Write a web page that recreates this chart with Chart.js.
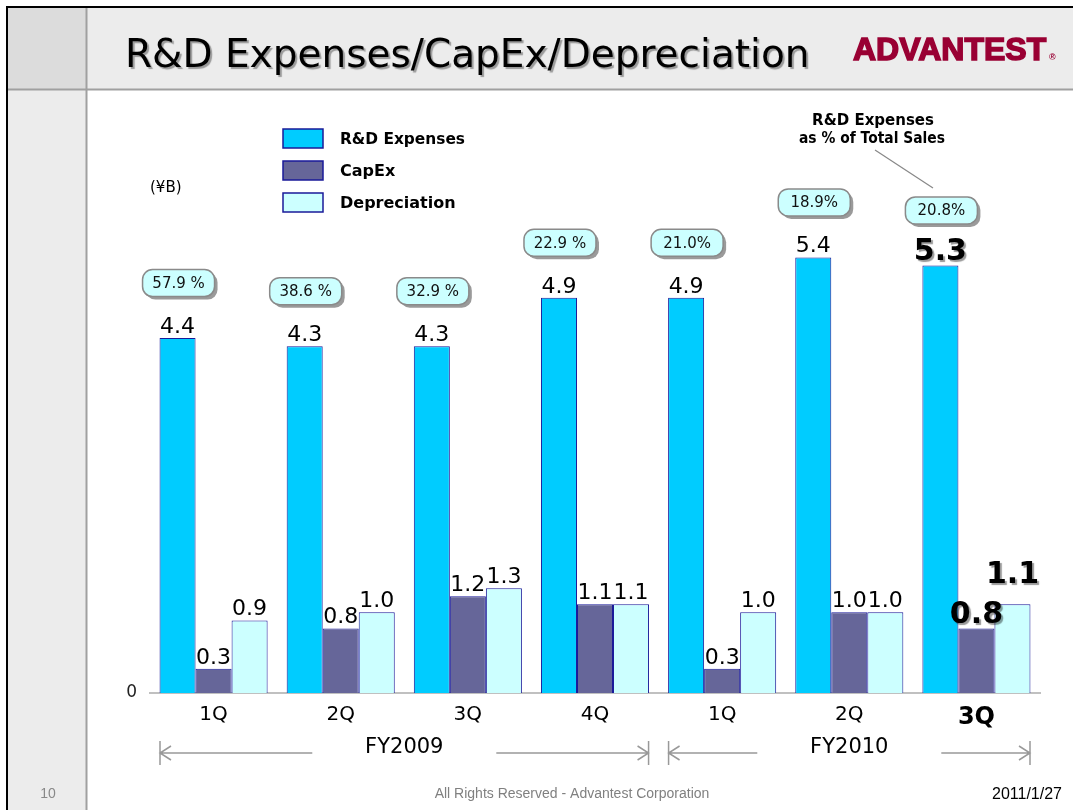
<!DOCTYPE html>
<html>
<head>
<meta charset="utf-8">
<title>R&amp;D Expenses/CapEx/Depreciation</title>
<script src="https://cdn.jsdelivr.net/npm/chart.js"></script>
<style>
  html, body { margin: 0; padding: 0; background: #fff; }
  #wrap { position: relative; width: 1073px; height: 810px; }
</style>
</head>
<body>
<div id="wrap"><canvas id="chart" width="1073" height="810"></canvas></div>

<script>
    // data (¥B)
    const quarters = ['1Q', '2Q', '3Q', '4Q', '1Q', '2Q', '3Q'];
    const fiscalYears = ['FY2009', 'FY2010'];
    const fiscalYearQuarters = [4, 3];
    const rdExpenses = [4.4, 4.3, 4.3, 4.9, 4.9, 5.4, 5.3];
    const capex = [0.3, 0.8, 1.2, 1.1, 0.3, 1.0, 0.8];
    const depreciation = [0.9, 1.0, 1.3, 1.1, 1.0, 1.0, 1.1];
    const rdRatio = ['57.9 %', '38.6 %', '32.9 %', '22.9 %', '21.0%', '18.9%', '20.8%'];
    const yTicks = [0];

    const fam = '"DejaVu Sans", Verdana, sans-serif';
    const arial = '"Liberation Sans", Arial, sans-serif';
    const lastIdx = quarters.length - 1;

    function roundRect(ctx, x, y, w, h, r) {
        ctx.beginPath();
        ctx.moveTo(x + r, y);
        ctx.arcTo(x + w, y, x + w, y + h, r);
        ctx.arcTo(x + w, y + h, x, y + h, r);
        ctx.arcTo(x, y + h, x, y, r);
        ctx.arcTo(x, y, x + w, y, r);
        ctx.closePath();
    }

    // slide frame, header, title, logo, footer
    const slidePlugin = {
        id: 'slide',
        beforeDraw(chart) {
            const ctx = chart.ctx;
            ctx.save();
            ctx.fillStyle = '#fff';
            ctx.fillRect(0, 0, 1073, 810);
            ctx.fillStyle = '#ececec';
            ctx.fillRect(8, 8, 1065, 82);
            ctx.fillRect(8, 90, 78, 720);
            ctx.fillStyle = '#dcdcdc';
            ctx.fillRect(8, 8, 78, 82);

            ctx.strokeStyle = '#a0a0a0';
            ctx.lineWidth = 2;
            ctx.beginPath();
            ctx.moveTo(86.5, 8); ctx.lineTo(86.5, 810);
            ctx.moveTo(8, 89.5); ctx.lineTo(1073, 89.5);
            ctx.stroke();

            ctx.strokeStyle = '#000';
            ctx.lineWidth = 2;
            ctx.beginPath();
            ctx.moveTo(7, 810); ctx.lineTo(7, 7); ctx.lineTo(1073, 7);
            ctx.stroke();

            // title
            ctx.shadowColor = 'rgba(0,0,0,0.35)';
            ctx.shadowOffsetX = 2;
            ctx.shadowOffsetY = 2;
            ctx.shadowBlur = 1;
            ctx.fillStyle = '#000';
            ctx.font = `39px ${fam}`;
            ctx.textAlign = 'left';
            ctx.textBaseline = 'alphabetic';
            ctx.fillText('R&D Expenses/CapEx/Depreciation', 125, 67, 692);
            ctx.shadowColor = 'transparent';

            // logo
            ctx.fillStyle = '#990033';
            ctx.strokeStyle = '#990033';
            ctx.lineWidth = 1.5;
            ctx.font = `bold 32px ${arial}`;
            ctx.fillText('ADVANTEST', 853, 60, 195);
            ctx.strokeText('ADVANTEST', 853, 60, 195);
            ctx.font = `bold 9px ${arial}`;
            ctx.fillText('®', 1049, 60);

            // footer
            ctx.font = `14px ${arial}`;
            ctx.fillStyle = '#888';
            ctx.textAlign = 'center';
            ctx.fillText('10', 48, 798);
            ctx.fillStyle = '#808080';
            ctx.fillText('All Rights Reserved - Advantest Corporation', 572, 798);
            ctx.fillStyle = '#000';
            ctx.font = `16px ${arial}`;
            ctx.textAlign = 'right';
            ctx.fillText('2011/1/27', 1062, 799);
            ctx.restore();
        },
        afterDatasetsDraw(chart) {
            const ctx = chart.ctx;
            const x = chart.scales.x;
            ctx.save();

            // value labels above bars
            ctx.textAlign = 'center';
            ctx.textBaseline = 'alphabetic';
            ctx.fillStyle = '#000';
            chart.data.datasets.forEach((ds, di) => {
                chart.getDatasetMeta(di).data.forEach((bar, i) => {
                    const last = i === lastIdx;
                    let y = bar.y - 5;
                    if (last) {
                        ctx.font = `bold 30px ${fam}`;
                        ctx.shadowColor = 'rgba(0,0,0,0.4)';
                        ctx.shadowOffsetX = 2;
                        ctx.shadowOffsetY = 2;
                        ctx.shadowBlur = 1;
                        if (di === 2) y -= 16;
                    } else {
                        ctx.font = `22px ${fam}`;
                        ctx.shadowColor = 'transparent';
                    }
                    ctx.fillText(ds.data[i].toFixed(1), bar.x, y);
                });
            });
            ctx.shadowColor = 'transparent';

            // R&D / sales bubbles
            ctx.font = `15px ${fam}`;
            ctx.textBaseline = 'middle';
            chart.getDatasetMeta(0).data.forEach((bar, i) => {
                const w = 72, h = 27;
                const cx = bar.x + 1, cy = bar.y - 55;
                roundRect(ctx, cx - w / 2 + 3, cy - h / 2 + 3, w, h, 10);
                ctx.fillStyle = '#9a9a9a';
                ctx.fill();
                roundRect(ctx, cx - w / 2, cy - h / 2, w, h, 10);
                ctx.fillStyle = '#ccffff';
                ctx.fill();
                ctx.strokeStyle = '#8a8a8a';
                ctx.lineWidth = 1.5;
                ctx.stroke();
                ctx.fillStyle = '#111';
                ctx.fillText(rdRatio[i], cx, cy + 1, w - 10);
            });

            // fiscal year brackets under the axis
            const half = (x.getPixelForValue(1) - x.getPixelForValue(0)) / 2;
            let start = 0;
            ctx.strokeStyle = '#999';
            ctx.lineWidth = 1.5;
            fiscalYears.forEach((fy, k) => {
                const end = start + fiscalYearQuarters[k] - 1;
                const l = x.getPixelForValue(start) - half + 10;
                const r = x.getPixelForValue(end) + half - 10;
                const c = (l + r) / 2, y = 753;
                ctx.beginPath();
                ctx.moveTo(l, 741); ctx.lineTo(l, 765);
                ctx.moveTo(r, 741); ctx.lineTo(r, 765);
                ctx.moveTo(l, y); ctx.lineTo(c - 92, y);
                ctx.moveTo(c + 92, y); ctx.lineTo(r, y);
                ctx.moveTo(l + 11, y - 7); ctx.lineTo(l, y); ctx.lineTo(l + 11, y + 7);
                ctx.moveTo(r - 11, y - 7); ctx.lineTo(r, y); ctx.lineTo(r - 11, y + 7);
                ctx.stroke();
                ctx.fillStyle = '#000';
                ctx.font = `21px ${fam}`;
                ctx.textAlign = 'center';
                ctx.textBaseline = 'middle';
                ctx.fillText(fy, c, 748);
                start = end + 1;
            });

            // legend
            ctx.textAlign = 'left';
            ctx.textBaseline = 'middle';
            chart.data.datasets.forEach((ds, di) => {
                const y = 129 + di * 32;
                ctx.fillStyle = ds.backgroundColor;
                ctx.fillRect(283, y, 40, 19);
                ctx.strokeStyle = ds.borderColor;
                ctx.lineWidth = 1.5;
                ctx.strokeRect(283, y, 40, 19);
                ctx.fillStyle = '#000';
                ctx.font = `bold 16px ${fam}`;
                ctx.fillText(ds.label, 340, y + 11, 125);
            });

            // unit and annotation
            ctx.font = `15px ${fam}`;
            ctx.fillText('(¥B)', 150, 188);
            ctx.textAlign = 'center';
            ctx.font = `bold 15px ${fam}`;
            ctx.fillText('R&D Expenses', 873, 121);
            ctx.fillText('as % of Total Sales', 872, 139, 146);
            ctx.strokeStyle = '#888';
            ctx.lineWidth = 1.2;
            ctx.beginPath();
            ctx.moveTo(875, 150); ctx.lineTo(933, 188);
            ctx.stroke();

            ctx.restore();
        }
    };

    const barBorder = '#1a1a99';

    new Chart(document.getElementById('chart'), {
        type: 'bar',
        data: {
            labels: quarters,
            datasets: [
                { label: 'R&D Expenses', data: rdExpenses, backgroundColor: '#00ccff', borderColor: barBorder, borderWidth: 1 },
                { label: 'CapEx', data: capex, backgroundColor: '#666699', borderColor: barBorder, borderWidth: 1 },
                { label: 'Depreciation', data: depreciation, backgroundColor: '#ccffff', borderColor: barBorder, borderWidth: 1 }
            ]
        },
        options: {
            responsive: false,
            animation: false,
            layout: { padding: { left: 110, right: 33, top: 209, bottom: 67 } },
            datasets: { bar: { categoryPercentage: 0.85, barPercentage: 1.0 } },
            plugins: {
                legend: { display: false },
                tooltip: { enabled: false }
            },
            scales: {
                x: {
                    grid: { display: false, drawTicks: false },
                    border: { color: '#c0c0c0', width: 2 },
                    afterFit: s => { s.height = 50; },
                    ticks: {
                        padding: 10,
                        color: '#000',
                        font: (c) => c.index === lastIdx
                            ? { family: fam, size: 24, weight: 'bold' }
                            : { family: fam, size: 20 }
                    }
                },
                y: {
                    min: 0,
                    max: 6,
                    grid: { display: false, drawTicks: false },
                    border: { display: false },
                    afterBuildTicks: s => { s.ticks = yTicks.map(v => ({ value: v })); },
                    afterFit: s => { s.width = 40; },
                    ticks: { padding: 13, color: '#222', font: { family: fam, size: 17 } }
                }
            }
        },
        plugins: [slidePlugin]
    });
</script>
</body>
</html>
